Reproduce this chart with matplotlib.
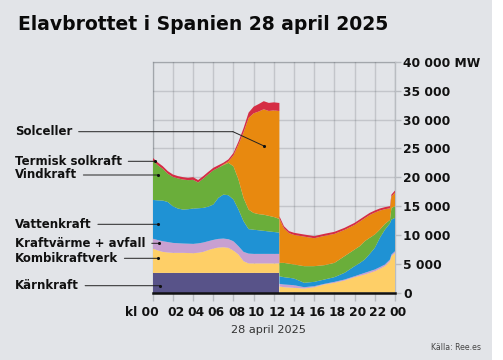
import matplotlib
matplotlib.use("Agg")
import matplotlib.pyplot as plt
from matplotlib.patches import Rectangle

# ---------------- data (MW) ----------------
hours = [0, 0.5, 1, 1.5, 2, 2.5, 3, 3.5, 4, 4.5, 5, 5.5, 6, 6.5, 7, 7.5, 8, 8.5,
         9, 9.5, 10, 10.5, 11, 11.5, 12, 12.5, 12.55,
         12.55, 13, 13.5, 14, 15, 16, 17, 18, 19, 20, 20.5, 21, 21.5, 22, 22.5,
         23, 23.5, 23.65, 24]

karnkraft = [3400, 3400, 3400, 3400, 3400, 3400, 3400, 3400, 3400, 3400, 3400, 3400,
             3400, 3400, 3400, 3400, 3400, 3400, 3400, 3400, 3400, 3400, 3400, 3400,
             3400, 3400, 3400,
             0, 0, 0, 0, 0, 0, 0, 0, 0, 0, 0, 0, 0, 0, 0, 0, 0, 0, 0]
kombikraftverk = [4230, 3900, 3650, 3550, 3480, 3480, 3480, 3450, 3420, 3500, 3650, 3950,
                  4230, 4400, 4460, 4350, 3880, 3190, 2030, 1650, 1650, 1650, 1650, 1650,
                  1650, 1650, 1650,
                  1040, 920, 870, 810, 690, 920, 1390, 1680, 2080, 2660, 2900, 3120, 3400,
                  3700, 4100, 4570, 5430, 6300, 6880]
kraftvarme = [1730, 1800, 1850, 1800, 1730, 1670, 1620, 1620, 1620, 1620, 1620, 1550,
              1500, 1500, 1500, 1500, 1620, 1440, 1620, 1700, 1650, 1650, 1650, 1650,
              1650, 1650, 1650,
              460, 470, 460, 460, 230, 180, 110, 170, 170, 170, 220, 290, 300, 290, 300,
              290, 290, 290, 290]
vattenkraft = [6710, 6890, 7050, 6950, 6360, 6020, 5890, 5980, 6130, 6100, 6010, 6000,
               6130, 7120, 7630, 7630, 7230, 6360, 5320, 4250, 4200, 4100, 4000, 3900,
               3800, 3700, 3700,
               1330, 1270, 1220, 1160, 760, 750, 750, 810, 1160, 1740, 1980, 2310, 3000,
               3760, 5080, 6040, 6280, 6070, 5780]
vindkraft = [6820, 6110, 5500, 4900, 5080, 5230, 5210, 5050, 4980, 4480, 5070, 5600,
             5940, 5230, 5110, 5620, 5770, 5200, 4040, 3390, 2900, 2800, 2800, 2700,
             2600, 2400, 2400,
             2310, 2480, 2450, 2430, 2890, 2720, 2490, 2480, 2890, 2890, 2930, 3180, 2800,
             2310, 1440, 1000, 600, 2020, 2020]
solceller = [0, 0, 0, 0, 0, 0, 0, 0, 0, 0, 0, 0, 0, 0, 100, 250, 1900, 6110, 11390,
             15910, 17300, 17800, 18300, 18200, 18500, 18700, 18700,
             7690, 6010, 5300, 5140, 5130, 4850, 5080, 5030, 4560, 4270, 4270, 3980, 3950,
             3810, 3300, 2550, 2020, 1960, 2370]
termisk_solkraft = [500, 480, 470, 460, 430, 400, 420, 400, 460, 420, 440, 430, 430, 430,
                    320, 360, 420, 520, 720, 920, 1150, 1300, 1400, 1400, 1400, 1400, 1400,
                    410, 360, 350, 360, 360, 360, 360, 360, 360, 360, 370, 370, 370, 360,
                    360, 360, 360, 360, 360]

series = [karnkraft, kombikraftverk, kraftvarme, vattenkraft, vindkraft, solceller,
          termisk_solkraft]
colors = ["#585389", "#fecf67", "#c8a0d1", "#1f92d4", "#6aae3a", "#e8890f", "#d52d44"]

labels = ["Solceller", "Termisk solkraft", "Vindkraft", "Vattenkraft",
          "Kraftvärme + avfall", "Kombikraftverk", "Kärnkraft"]
yticks = [0, 5000, 10000, 15000, 20000, 25000, 30000, 35000, 40000]
ytick_labels = ["0", "5 000", "10 000", "15 000", "20 000", "25 000", "30 000",
                "35 000", "40 000 MW"]
xticks = [0, 2, 4, 6, 8, 10, 12, 14, 16, 18, 20, 22, 24]
xtick_labels = ["kl 00", "02", "04", "06", "08", "10", "12", "14", "16", "18", "20",
                "22", "00"]

# ---------------- figure ----------------
W, H = 503, 360
fig = plt.figure(figsize=(W / 100, H / 100), dpi=100, facecolor="white")
bg = fig.add_axes([0, 0, 492 / W, 1], zorder=-10)
bg.set_axis_off()
bg.add_patch(Rectangle((0, 0), 1, 1, transform=bg.transAxes,
                       facecolor="#e2e4e8", edgecolor="none"))

L, R, T, B = 152.7, 395.0, 62.0, 292.5
ax = fig.add_axes([L / W, (H - B) / H, (R - L) / W, (B - T) / H], zorder=1)
ax.set_facecolor("none")
ax.set_xlim(0, 24)
ax.set_ylim(0, 40000)

grid_c = "#b9bcc1"
ax.stackplot(hours, *series, colors=colors, linewidth=0, zorder=2)

ax.set_xticks(xticks)
ax.set_xticklabels([])
ax.set_yticks(yticks)
ax.yaxis.tick_right()
ax.set_yticklabels(ytick_labels, fontsize=8.8, fontweight="bold", color="#111111")
ax.tick_params(axis="y", length=4.5, width=1.0, color=grid_c, pad=1.4)
ax.tick_params(axis="x", length=6, width=1.0, color=grid_c)
ax.grid(True, color="#50555c", alpha=0.21, lw=1.0, zorder=3)
for s in ["left", "right", "top"]:
    ax.spines[s].set_color(grid_c)
    ax.spines[s].set_linewidth(1.0)
    ax.spines[s].set_zorder(1)
ax.spines["bottom"].set_color("#111111")
ax.spines["bottom"].set_linewidth(1.8)
ax.spines["bottom"].set_zorder(5)

# x labels
xt = ax.get_xaxis_transform()
for h, lab in zip(xticks, xtick_labels):
    if h == 0:
        ax.text(0.62, -0.087, lab, transform=xt, ha="right", va="center",
                fontsize=8.8, fontweight="bold", color="#111111")
    else:
        ax.text(h + 0.3, -0.087, lab, transform=xt, ha="center", va="center",
                fontsize=8.8, fontweight="bold", color="#111111")

# leader labels
def px2val(y):
    return (B - y) / (B - T) * 40000

def px2h(x):
    return (x - L) / (R - L) * 24

label_px_y = [131.7, 161.3, 175.0, 224.3, 243.3, 258.3, 285.7]
dot_px_x = [264.0, 155.0, 158.3, 158.3, 159.3, 158.3, 160.0]
dot_px_y = [146.0, 161.3, 175.0, 224.3, 243.3, 258.3, 285.7]
for i, lab in enumerate(labels):
    y = label_px_y[i]
    if i == 0:
        target = (px2h(233.0), px2val(y))
    else:
        target = (px2h(dot_px_x[i]), px2val(y))
    ax.annotate(lab, xy=target, xycoords="data", xytext=(15, H - y),
                textcoords="figure pixels", ha="left", va="center",
                fontsize=8.5, fontweight="bold", color="#111111",
                arrowprops=dict(arrowstyle="-", lw=0.7, color="#222222",
                                shrinkA=2.5, shrinkB=0, relpos=(1, 0.5)),
                annotation_clip=False, zorder=6)
    if i == 0:
        ax.plot([target[0], px2h(dot_px_x[0])], [target[1], px2val(dot_px_y[0])],
                color="#222222", lw=0.7, zorder=6, clip_on=False)
    ax.scatter([px2h(dot_px_x[i])], [px2val(dot_px_y[i])], s=5, color="#111111",
               zorder=7, clip_on=False, linewidths=0)

# title and texts
fig.text(18 / W, (H - 24) / H, "Elavbrottet i Spanien 28 april 2025",
         fontsize=13.5, fontweight="heavy", color="#0a0a0a", ha="left", va="center")
fig.text(268 / W, (H - 330) / H, "28 april 2025", fontsize=8.1, color="#333333",
         ha="center", va="center")
fig.text(481 / W, (H - 348) / H, "Källa: Ree.es", fontsize=5.6, color="#444444",
         ha="right", va="center")

fig.savefig("out.png", dpi=100, facecolor=fig.get_facecolor())
